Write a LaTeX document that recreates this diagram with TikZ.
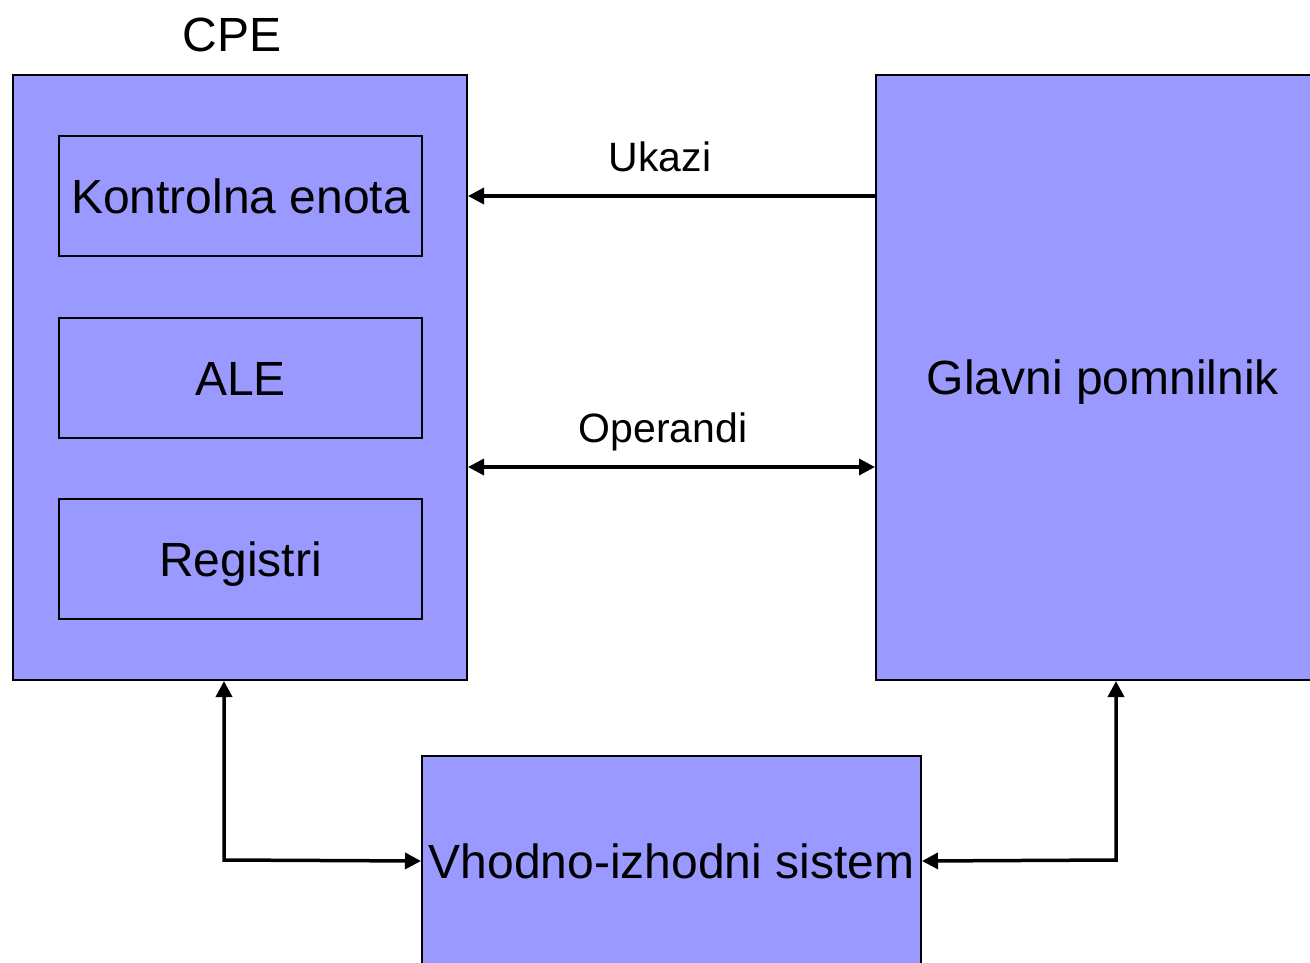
\documentclass[tikz,border=0pt]{standalone}
\usepackage{fontspec}
\setmainfont{Liberation Sans}
\usetikzlibrary{arrows.meta}
\definecolor{boxblue}{HTML}{9999FF}
\tikzset{
  box/.style={draw=black,fill=boxblue,line width=2pt,inner sep=0pt,text height=34.5pt,text depth=0pt,font=\fontsize{48}{56}\selectfont},
  lbl/.style={inner sep=0pt,text height=29.5pt,text depth=0pt,font=\fontsize{41}{48}\selectfont},
  conn/.style={line width=3.5pt,-{Triangle[length=16pt,width=16pt]}},
  dconn/.style={line width=3.5pt,{Triangle[length=16pt,width=16pt]}-{Triangle[length=16pt,width=16pt]}}
}
\begin{document}
\begin{tikzpicture}[x=1pt,y=-1pt]
\useasboundingbox (0,0) rectangle (1310,962);
\clip (0,0) rectangle (1310,962);
\node[box, minimum width=454pt, minimum height=605pt, anchor=north west] (cpe) at (12,74) {};
\node[box, minimum width=454pt, minimum height=605pt, anchor=north west] (gp) at (875,74) {Glavni pomnilnik};
\node[box, minimum width=499pt, minimum height=210pt, anchor=north west] (io) at (421,755) {Vhodno-izhodni sistem};
\node[box, minimum width=363pt, minimum height=120pt, anchor=north west] (ke) at (58,135) {Kontrolna enota};
\node[box, minimum width=363pt, minimum height=120pt, anchor=north west] (ale) at (58,317) {ALE};
\node[box, minimum width=363pt, minimum height=120pt, anchor=north west] (reg) at (58,498) {Registri};
\node[inner sep=0pt, text height=34.5pt, text depth=0pt, font=\fontsize{48}{56}\selectfont] (cpel) at (232,34) {CPE};
\node[lbl] (uk) at (660,157) {Ukazi};
\node[lbl] (op) at (663,428) {Operandi};
\coordinate (opy) at (0,467);
\coordinate (lc) at (224,860);
\coordinate (rc) at (1116,860);
\draw[conn] (gp.west |- ke.center) -- (cpe.east |- ke.center);
\draw[dconn] (cpe.east |- opy) -- (gp.west |- opy);
\draw[dconn] (lc |- cpe.south) -- (lc) -- (io.west);
\draw[dconn] (rc |- gp.south) -- (rc) -- (io.east);
\end{tikzpicture}
\end{document}
